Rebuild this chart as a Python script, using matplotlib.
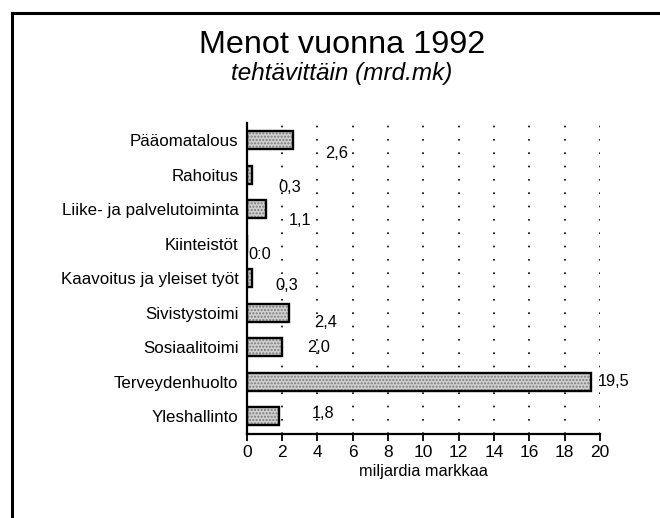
import matplotlib
matplotlib.use("Agg")
import matplotlib.pyplot as plt
from matplotlib.lines import Line2D

plt.rcParams['font.family'] = ['Liberation Sans', 'DejaVu Sans']

categories = ['Pääomatalous', 'Rahoitus', 'Liike- ja palvelutoiminta', 'Kiinteistöt',
              'Kaavoitus ja yleiset työt', 'Sivistystoimi', 'Sosiaalitoimi',
              'Terveydenhuolto', 'Yleshallinto']
values = [2.6, 0.3, 1.1, 0.0, 0.3, 2.4, 2.0, 19.5, 1.8]
value_labels = ['2,6', '0,3', '1,1', '0:0', '0,3', '2,4', '2,0', '19,5', '1,8']
# label offsets in points (dx from bar end, dy downward)
label_dx = [23, 19, 16, 1, 17, 18, 18, 5, 24]
label_dy = [-10, -9, -8, -8, -5, -7, 0, 0, 2]
xticks = list(range(0, 21, 2))

fig = plt.figure(figsize=(6.6, 5.18), dpi=100)
ax = fig.add_axes([0.374, 0.163, 0.535, 0.600])

y = list(range(len(categories)))
ax.barh(y, values, height=0.52, color='#d0d0d0', edgecolor='#7a7a7a',
        hatch='.....', linewidth=0, zorder=2)
ax.barh(y, values, height=0.52, color='none', edgecolor='black',
        linewidth=1.7, zorder=3)

for yi, v, txt, dx, dy in zip(y, values, value_labels, label_dx, label_dy):
    ax.annotate(txt, (v, yi), xytext=(dx, dy), textcoords='offset points',
                ha='left', va='center', fontsize=11.8, zorder=4)

ax.set_yticks(y)
ax.set_yticklabels(categories, fontsize=12.2)
ax.tick_params(axis='y', length=0, pad=6)
ax.set_ylim(len(categories) - 0.5, -0.5)

ax.set_xlim(0, 20)
ax.set_xticks(xticks)
ax.tick_params(axis='x', direction='out', length=5, width=1.3, labelsize=12.5, pad=3)
ax.set_xlabel('miljardia markkaa', fontsize=11.8, labelpad=3)

ax.grid(axis='x', color='black', linestyle=(0, (1, 7)), linewidth=1.2, zorder=1)
ax.set_axisbelow(True)
for s in ['top', 'right']:
    ax.spines[s].set_visible(False)
ax.spines['left'].set_linewidth(1.6)
ax.spines['bottom'].set_linewidth(1.6)

fig.text(0.518, 0.914, 'Menot vuonna 1992', ha='center', va='center', fontsize=23.3)
fig.text(0.518, 0.858, 'tehtävittäin (mrd.mk)', ha='center', va='center',
         fontsize=17.5, style='italic')

# frame (top and left edge only)
fig.add_artist(Line2D([0.018, 1.0], [0.975, 0.975], color='black', linewidth=2.2,
                      transform=fig.transFigure))
fig.add_artist(Line2D([0.018, 0.018], [0.0, 0.975], color='black', linewidth=2.2,
                      transform=fig.transFigure))

fig.savefig('out.png', dpi=100)
